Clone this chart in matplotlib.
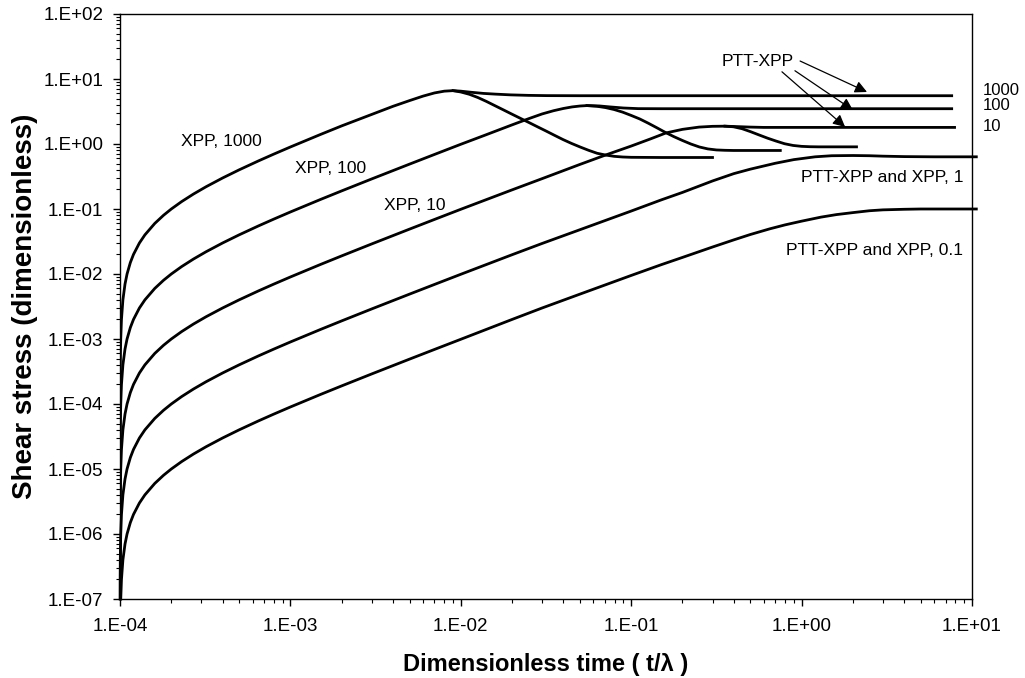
import numpy as np
import matplotlib.pyplot as plt
from matplotlib.ticker import FuncFormatter, LogLocator, NullFormatter

plt.rcParams['font.family'] = ['Liberation Sans', 'DejaVu Sans']

# --- values: shear stress vs dimensionless time ---
# Wi = 0.1 (PTT-XPP and XPP coincide)
t_01 = [1.01e-4, 1.02e-4, 1.04e-4, 1.07e-4, 1.1e-4, 1.15e-4, 1.2e-4, 1.3e-4, 1.4e-4,
        1.6e-4, 1.8e-4, 2e-4, 2.3e-4, 2.7e-4, 3.2e-4, 4e-4, 5e-4, 6.5e-4, 8e-4, 1e-3,
        1.5e-3, 2e-3, 3e-3, 5e-3, 7e-3, 1e-2, 2e-2, 3e-2, 5e-2, 0.1, 0.15, 0.2, 0.3,
        0.4, 0.5, 0.65, 0.8, 1.0, 1.3, 1.6, 2.0, 2.5, 3.0, 4.0, 5.0, 7.0, 10.6]
s_01 = [1e-7, 2e-7, 4e-7, 7e-7, 1e-6, 1.5e-6, 2e-6, 3e-6, 4e-6,
        6e-6, 8e-6, 1e-5, 1.3e-5, 1.7e-5, 2.2e-5, 3e-5, 4e-5, 5.5e-5, 7e-5, 9e-5,
        1.4e-4, 1.9e-4, 2.9e-4, 4.9e-4, 6.9e-4, 9.9e-4, 2e-3, 3e-3, 4.9e-3, 9.5e-3,
        1.39e-2, 1.8e-2, 2.6e-2, 3.35e-2, 4.05e-2, 4.95e-2, 5.7e-2, 6.5e-2, 7.5e-2,
        8.2e-2, 8.8e-2, 9.4e-2, 9.7e-2, 9.9e-2, 0.1, 0.1, 0.1]

# Wi = 1 (PTT-XPP and XPP coincide)
t_1 = [1.001e-4, 1.002e-4, 1.004e-4, 1.007e-4, 1.01e-4, 1.02e-4, 1.04e-4, 1.07e-4,
       1.1e-4, 1.15e-4, 1.2e-4, 1.3e-4, 1.4e-4, 1.6e-4, 1.8e-4, 2e-4, 2.3e-4, 2.7e-4,
       3.2e-4, 4e-4, 5e-4, 6.5e-4, 8e-4, 1e-3, 1.5e-3, 2e-3, 3e-3, 5e-3, 7e-3, 1e-2,
       2e-2, 3e-2, 5e-2, 0.1, 0.15, 0.2, 0.3, 0.4, 0.5, 0.7, 0.9, 1.2, 1.5, 2.0, 2.5,
       3.0, 4.0, 6.0, 10.6]
s_1 = [1e-7, 2e-7, 4e-7, 7e-7, 1e-6, 2e-6, 4e-6, 7e-6,
       1e-5, 1.5e-5, 2e-5, 3e-5, 4e-5, 6e-5, 8e-5, 1e-4, 1.3e-4, 1.7e-4,
       2.2e-4, 3e-4, 4e-4, 5.5e-4, 7e-4, 9e-4, 1.4e-3, 1.9e-3, 2.9e-3, 4.9e-3, 6.9e-3,
       9.9e-3, 0.0198, 0.0295, 0.048, 0.093, 0.138, 0.18, 0.27, 0.35, 0.41, 0.505,
       0.575, 0.635, 0.66, 0.665, 0.66, 0.65, 0.64, 0.635, 0.635]

# Wi = 10: common rise, then PTT-XPP plateau and XPP dip
t_10 = [1.0001e-4, 1.0002e-4, 1.0004e-4, 1.0007e-4, 1.001e-4, 1.002e-4, 1.004e-4,
        1.007e-4, 1.01e-4, 1.02e-4, 1.04e-4, 1.07e-4, 1.1e-4, 1.15e-4, 1.2e-4, 1.3e-4,
        1.4e-4, 1.6e-4, 1.8e-4, 2e-4, 2.3e-4, 2.7e-4, 3.2e-4, 4e-4, 5e-4, 6.5e-4, 8e-4,
        1e-3, 1.5e-3, 2e-3, 3e-3, 5e-3, 7e-3, 1e-2, 2e-2, 3e-2, 5e-2, 0.07, 0.1, 0.13,
        0.16, 0.2, 0.25, 0.3, 0.355]
s_10 = [1e-7, 2e-7, 4e-7, 7e-7, 1e-6, 2e-6, 4e-6,
        7e-6, 1e-5, 2e-5, 4e-5, 7e-5, 1e-4, 1.5e-4, 2e-4, 3e-4,
        4e-4, 6e-4, 8e-4, 1e-3, 1.3e-3, 1.7e-3, 2.2e-3, 3e-3, 4e-3, 5.5e-3, 7e-3,
        9e-3, 0.014, 0.019, 0.029, 0.049, 0.069, 0.099, 0.197, 0.293, 0.485, 0.67,
        0.93, 1.2, 1.48, 1.68, 1.82, 1.87, 1.88]
t_10_ptt = [0.355, 0.4, 0.5, 0.6, 0.8, 1.0, 2.0, 4.0, 7.9]
s_10_ptt = [1.88, 1.86, 1.82, 1.80, 1.80, 1.80, 1.80, 1.80, 1.80]
t_10_xpp = [0.355, 0.398, 0.447, 0.501, 0.562, 0.631, 0.708, 0.794, 0.891, 1.0,
            1.122, 1.259, 1.6, 2.1]
s_10_xpp = [1.88, 1.84, 1.72, 1.55, 1.38, 1.23, 1.11, 1.01, 0.95, 0.92,
            0.908, 0.904, 0.904, 0.904]

# Wi = 100
t_100 = [1.00001e-4, 1.00002e-4, 1.00004e-4, 1.00007e-4, 1.0001e-4, 1.0002e-4,
         1.0004e-4, 1.0007e-4, 1.001e-4, 1.002e-4, 1.004e-4, 1.007e-4, 1.01e-4,
         1.02e-4, 1.04e-4, 1.07e-4, 1.1e-4, 1.15e-4, 1.2e-4, 1.3e-4, 1.4e-4, 1.6e-4,
         1.8e-4, 2e-4, 2.3e-4, 2.7e-4, 3.2e-4, 4e-4, 5e-4, 6.5e-4, 8e-4, 1e-3, 1.5e-3,
         2e-3, 3e-3, 5e-3, 7e-3, 1e-2, 1.4e-2, 2e-2, 2.5e-2, 3e-2, 3.5e-2, 4e-2,
         4.5e-2, 5e-2, 5.5e-2]
s_100 = [1e-7, 2e-7, 4e-7, 7e-7, 1e-6, 2e-6,
         4e-6, 7e-6, 1e-5, 2e-5, 4e-5, 7e-5, 1e-4,
         2e-4, 4e-4, 7e-4, 1e-3, 1.5e-3, 2e-3, 3e-3, 4e-3, 6e-3,
         8e-3, 0.01, 0.013, 0.017, 0.022, 0.03, 0.04, 0.055, 0.07, 0.09, 0.14,
         0.19, 0.29, 0.49, 0.69, 0.99, 1.38, 1.97, 2.45, 2.9, 3.25, 3.52,
         3.72, 3.84, 3.9]
t_100_ptt = [5.5e-2, 6.5e-2, 7.5e-2, 9e-2, 0.11, 0.15, 0.3, 1.0, 3.0, 7.6]
s_100_ptt = [3.9, 3.85, 3.72, 3.58, 3.5, 3.49, 3.49, 3.49, 3.49, 3.49]
t_100_xpp = [5.5e-2, 0.0631, 0.0708, 0.0794, 0.0891, 0.1, 0.1122, 0.1259, 0.1413,
             0.1585, 0.1778, 0.1995, 0.2239, 0.2512, 0.2818, 0.3162, 0.3548, 0.398,
             0.5, 0.75]
s_100_xpp = [3.9, 3.8, 3.63, 3.39, 3.09, 2.75, 2.43, 2.09, 1.78,
             1.51, 1.30, 1.135, 1.0, 0.90, 0.84, 0.81, 0.80, 0.795,
             0.795, 0.795]

# Wi = 1000
t_1000 = [1.000001e-4, 1.000002e-4, 1.000004e-4, 1.000007e-4, 1.00001e-4, 1.00002e-4,
          1.00004e-4, 1.00007e-4, 1.0001e-4, 1.0002e-4, 1.0004e-4, 1.0007e-4, 1.001e-4,
          1.002e-4, 1.004e-4, 1.007e-4, 1.01e-4, 1.02e-4, 1.04e-4, 1.07e-4, 1.1e-4,
          1.15e-4, 1.2e-4, 1.3e-4, 1.4e-4, 1.6e-4, 1.8e-4, 2e-4, 2.3e-4, 2.7e-4, 3.2e-4,
          4e-4, 5e-4, 6.5e-4, 8e-4, 1e-3, 1.5e-3, 2e-3, 3e-3, 4e-3, 5e-3, 6e-3, 7e-3,
          8e-3, 9e-3]
s_1000 = [1e-7, 2e-7, 4e-7, 7e-7, 1e-6, 2e-6,
          4e-6, 7e-6, 1e-5, 2e-5, 4e-5, 7e-5, 1e-4,
          2e-4, 4e-4, 7e-4, 1e-3, 2e-3, 4e-3, 7e-3, 0.01,
          0.015, 0.02, 0.03, 0.04, 0.06, 0.08, 0.1, 0.13, 0.17, 0.22,
          0.3, 0.4, 0.55, 0.7, 0.9, 1.4, 1.9, 2.85, 3.8, 4.65, 5.45, 6.1,
          6.5, 6.62]
t_1000_ptt = [9e-3, 1e-2, 1.15e-2, 1.36e-2, 1.6e-2, 1.96e-2, 2.5e-2, 3.2e-2, 5e-2,
              0.1, 1.0, 7.6]
s_1000_ptt = [6.62, 6.5, 6.25, 6.0, 5.85, 5.7, 5.6, 5.55, 5.53, 5.53, 5.53, 5.53]
t_1000_xpp = [9e-3, 0.01, 0.01122, 0.01259, 0.01413, 0.01585, 0.01778, 0.01995,
              0.02239, 0.02512, 0.02818, 0.03162, 0.03548, 0.03981, 0.04467, 0.05012,
              0.05623, 0.0631, 0.0708, 0.0794, 0.0891, 0.1, 0.15, 0.3]
s_1000_xpp = [6.62, 6.31, 5.82, 5.19, 4.52, 3.89, 3.35, 2.88,
              2.48, 2.14, 1.84, 1.585, 1.36, 1.17, 1.02, 0.90,
              0.80, 0.72, 0.676, 0.646, 0.631, 0.624, 0.62, 0.62]

fig = plt.figure(figsize=(10.25, 6.78), dpi=100)
ax = fig.add_axes([120 / 1025, 1 - 599 / 678, 852 / 1025, 585 / 678])
ax.set_xscale('log')
ax.set_yscale('log')

lw = 2.0
ax.plot(t_01, s_01, color='black', lw=lw, clip_on=False)
ax.plot(t_1, s_1, color='black', lw=lw, clip_on=False)
ax.plot(t_10 + t_10_ptt, s_10 + s_10_ptt, color='black', lw=lw)
ax.plot(t_10_xpp, s_10_xpp, color='black', lw=lw)
ax.plot(t_100 + t_100_ptt, s_100 + s_100_ptt, color='black', lw=lw)
ax.plot(t_100_xpp, s_100_xpp, color='black', lw=lw)
ax.plot(t_1000 + t_1000_ptt, s_1000 + s_1000_ptt, color='black', lw=lw)
ax.plot(t_1000_xpp, s_1000_xpp, color='black', lw=lw)

ax.set_xlim(1e-4, 1e1)
ax.set_ylim(1e-7, 1e2)


def excel_fmt(v, pos):
    e = int(round(np.log10(v)))
    return f"1.E{e:+03d}"


for axis in (ax.xaxis, ax.yaxis):
    axis.set_major_locator(LogLocator(base=10, numticks=30))
    axis.set_minor_locator(LogLocator(base=10, subs=np.arange(2, 10), numticks=30))
    axis.set_major_formatter(FuncFormatter(excel_fmt))
    axis.set_minor_formatter(NullFormatter())

ax.tick_params(which='major', direction='out', length=5, width=1, labelsize=13.5)
ax.tick_params(which='minor', direction='out', length=3, width=0.8)
ax.tick_params(axis='x', which='major', pad=9)
ax.tick_params(axis='y', which='major', pad=7)
for sp in ax.spines.values():
    sp.set_linewidth(1.0)

ax.set_xlabel('Dimensionless time ( t/λ )', fontsize=17, fontweight='bold', labelpad=13)
ax.set_ylabel('Shear stress (dimensionless)', fontsize=20, fontweight='bold', labelpad=4)

fs = 12.6
ax.text(3.92e-4, 1.11, 'XPP, 1000', fontsize=fs, ha='center', va='center')
ax.text(1.71e-3, 0.427, 'XPP, 100', fontsize=fs, ha='center', va='center')
ax.text(5.38e-3, 0.115, 'XPP, 10', fontsize=fs, ha='center', va='center')
ax.text(0.555, 18.5, 'PTT-XPP', fontsize=fs, ha='center', va='center')
ax.text(8.86, 0.31, 'PTT-XPP and XPP, 1', fontsize=fs, ha='right', va='center')
ax.text(8.86, 0.0226, 'PTT-XPP and XPP, 0.1', fontsize=fs, ha='right', va='center')
ax.text(11.56, 6.77, '1000', fontsize=12, ha='left', va='center')
ax.text(11.56, 3.98, '100', fontsize=12, ha='left', va='center')
ax.text(11.56, 1.83, '10', fontsize=12, ha='left', va='center')

arrow = dict(arrowstyle='-|>', color='black', lw=0.9, mutation_scale=18, shrinkA=0, shrinkB=0)
ax.annotate('', xy=(2.42, 6.31), xytext=(0.98, 18.9), arrowprops=arrow)
ax.annotate('', xy=(2.0, 3.33), xytext=(0.914, 13.4), arrowprops=arrow)
ax.annotate('', xy=(1.8, 1.83), xytext=(0.767, 12.9), arrowprops=arrow)

fig.savefig('out.png', dpi=100)
